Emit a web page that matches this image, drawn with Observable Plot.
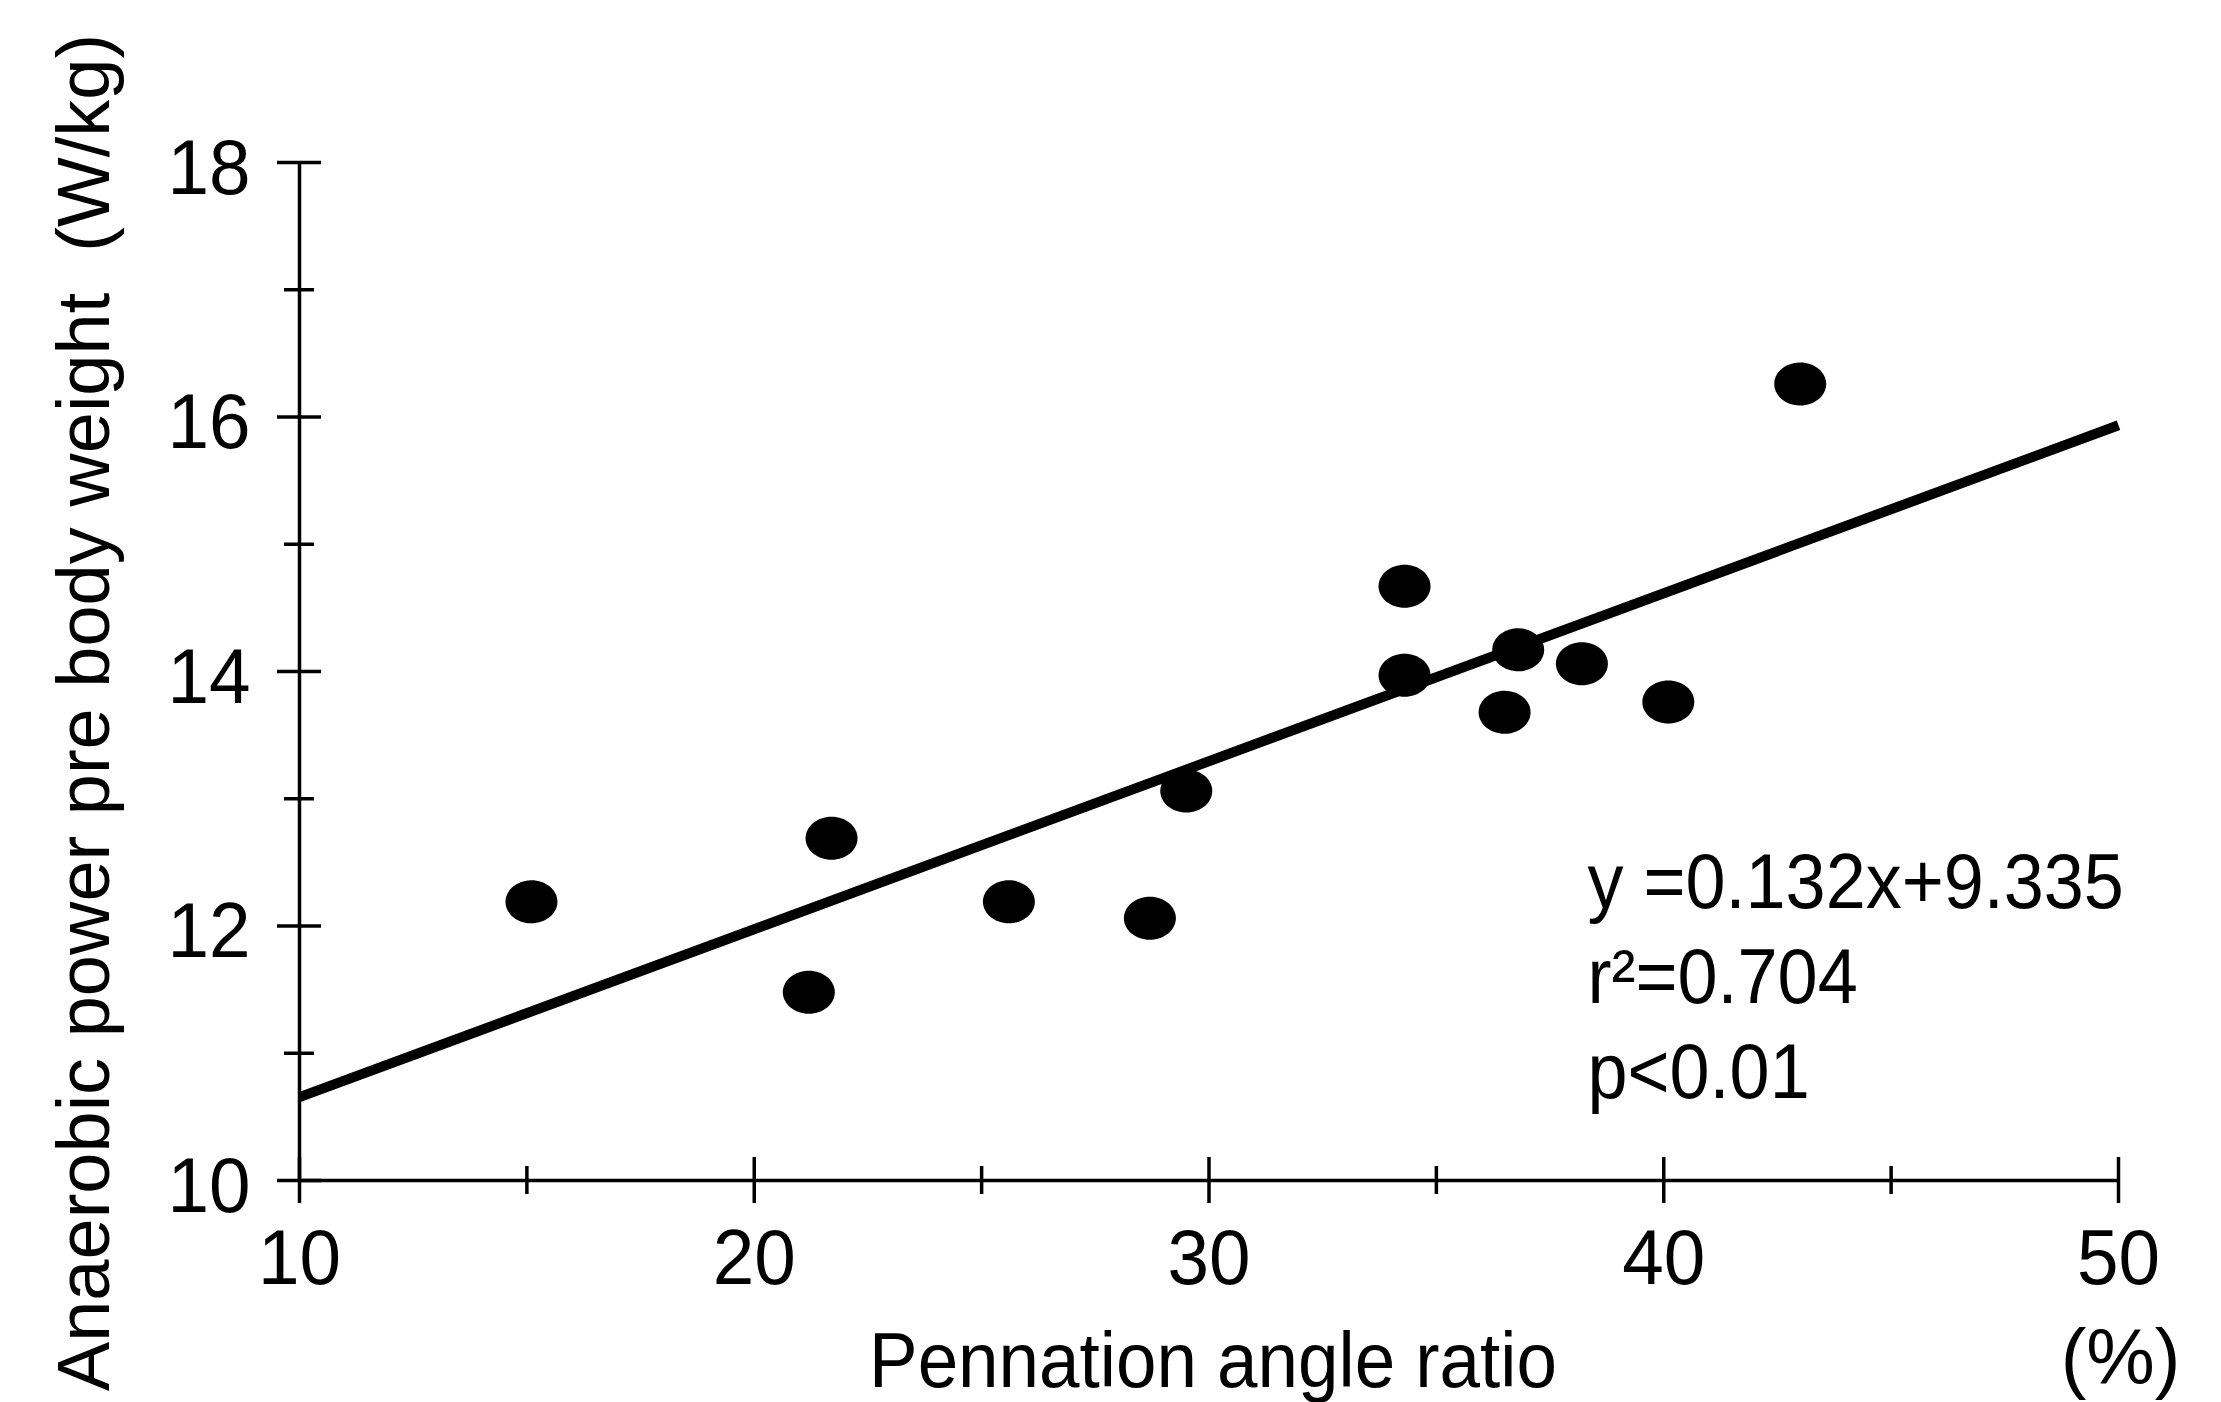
<!DOCTYPE html>
<html>
<head>
<meta charset="utf-8">
<script src="https://cdn.jsdelivr.net/npm/d3@7"></script>
<script src="https://cdn.jsdelivr.net/npm/@observablehq/plot@0.6"></script>
<style>
  html, body { margin: 0; padding: 0; background: #fff; overflow: hidden; }
  svg text { white-space: pre; }
</style>
</head>
<body>
<div id="chart"></div>
<script>
// Data
const pennationRatio = [15.1, 21.2, 21.7, 25.6, 28.7, 29.5, 34.3, 34.3, 36.5, 36.8, 38.2, 40.1, 43.0];
const anaerobicPower = [12.19, 11.48, 12.69, 12.19, 12.06, 13.06, 14.67, 13.97, 13.68, 14.17, 14.06, 13.76, 16.26];

// Regression line endpoints (y = 0.132x + 9.335)
const fitX = [10, 50];
const fitY = [10.655, 15.935];

// Ticks
const xMajor = [10, 20, 30, 40, 50];
const xMinor = [15, 25, 35, 45];
const yMajor = [10, 12, 14, 16, 18];
const yMinor = [11, 13, 15, 17];

const xTitle = "Pennation angle ratio";
const xUnit = "(%)";
const yTitle = "Anaerobic power pre body weight  (W/kg)";
const annotationLines = ["y =0.132x+9.335", "r\u00B2=0.704", "p<0.01"];

const points = pennationRatio.map((x, i) => ({x, y: anaerobicPower[i]}));
const fit = fitX.map((x, i) => ({x, y: fitY[i]}));

// filled ellipse symbol (dots in the reference are slightly wider than tall)
const ellipse = {
  draw(ctx) {
    const a = 26, b = 21.5, k = 0.5523;
    ctx.moveTo(a, 0);
    ctx.bezierCurveTo(a, b * k, a * k, b, 0, b);
    ctx.bezierCurveTo(-a * k, b, -a, b * k, -a, 0);
    ctx.bezierCurveTo(-a, -b * k, -a * k, -b, 0, -b);
    ctx.bezierCurveTo(a * k, -b, a, -b * k, a, 0);
    ctx.closePath();
  }
};

const FONT = "'Liberation Sans', Arial, Helvetica, sans-serif";
const AX = 3.5;

const chart = Plot.plot({
  width: 2221,
  height: 1402,
  marginLeft: 299,
  marginRight: 103,
  marginTop: 162,
  marginBottom: 222,
  style: {fontFamily: FONT, background: "#fff", color: "#000", overflow: "visible"},
  x: {domain: [10, 50], axis: null},
  y: {domain: [10, 18], axis: null},
  marks: [
    // axis lines
    Plot.ruleY([10], {x1: 10, x2: 50, stroke: "#000", strokeWidth: AX}),
    Plot.ruleX([10], {y1: 10, y2: 18, stroke: "#000", strokeWidth: AX}),
    // x ticks (crossing the axis)
    Plot.ruleX(xMajor, {x: d => d, y1: 10, y2: 10, insetTop: -23, insetBottom: -23, stroke: "#000", strokeWidth: AX}),
    Plot.ruleX(xMinor, {x: d => d, y1: 10, y2: 10, insetTop: -14, insetBottom: -14, stroke: "#000", strokeWidth: AX}),
    // y ticks (crossing the axis)
    Plot.ruleY(yMajor, {y: d => d, x1: 10, x2: 10, insetLeft: -22, insetRight: -22, stroke: "#000", strokeWidth: AX}),
    Plot.ruleY(yMinor, {y: d => d, x1: 10, x2: 10, insetLeft: -15, insetRight: -15, stroke: "#000", strokeWidth: AX}),
    // tick labels
    Plot.text(xMajor, {x: d => d, frameAnchor: "bottom", text: d => String(d), textAnchor: "middle", lineAnchor: "bottom", dy: 103, fontSize: 77, fill: "#000"}),
    Plot.text(yMajor, {y: d => d, frameAnchor: "left", text: d => String(d), textAnchor: "end", lineAnchor: "bottom", dx: -49, dy: 31, fontSize: 77, fill: "#000"}),
    // axis titles
    Plot.text([xTitle], {frameAnchor: "bottom", text: d => d, textAnchor: "middle", lineAnchor: "bottom", dx: 4, dy: 206, fontSize: 77, fill: "#000"}),
    Plot.text([xUnit], {frameAnchor: "bottom-right", text: d => d, textAnchor: "middle", lineAnchor: "bottom", dx: 2, dy: 203, fontSize: 77, fill: "#000"}),
    Plot.text([yTitle], {frameAnchor: "left", text: d => d, rotate: -90, textAnchor: "middle", lineAnchor: "bottom", dx: -191, dy: 41, fontSize: 74, fill: "#000"}),
    // regression line
    Plot.line(fit, {x: "x", y: "y", stroke: "#000", strokeWidth: 10, strokeLinecap: "butt"}),
    // data points
    Plot.dot(points, {x: "x", y: "y", symbol: ellipse, r: 24, fill: "#000", stroke: "none"}),
    // annotation
    Plot.text([annotationLines.join("\n")], {frameAnchor: "top-left", text: d => d, textAnchor: "start", lineAnchor: "top", lineHeight: 1.234, dx: 1288, dy: 678, fontSize: 77, fill: "#000"})
  ]
});

document.getElementById("chart").appendChild(chart);

// the reference typeface is slightly condensed horizontally
const condense = new Map([
  [xTitle, 0.945],
  ...annotationLines.map(l => [l, 0.935]),
  ...xMajor.map(v => [String(v), 0.97]),
  ...yMajor.map(v => [String(v), 0.97])
]);
chart.querySelectorAll("text").forEach(t => {
  const spans = t.querySelectorAll("tspan");
  const targets = spans.length ? [...spans] : [t];
  for (const el of targets) {
    const s = condense.get(el.textContent);
    if (!s) continue;
    const L = el.getComputedTextLength();
    if (!(L > 0)) continue;
    el.setAttribute("textLength", (L * s).toFixed(1));
    el.setAttribute("lengthAdjust", "spacingAndGlyphs");
  }
});
</script>
</body>
</html>
